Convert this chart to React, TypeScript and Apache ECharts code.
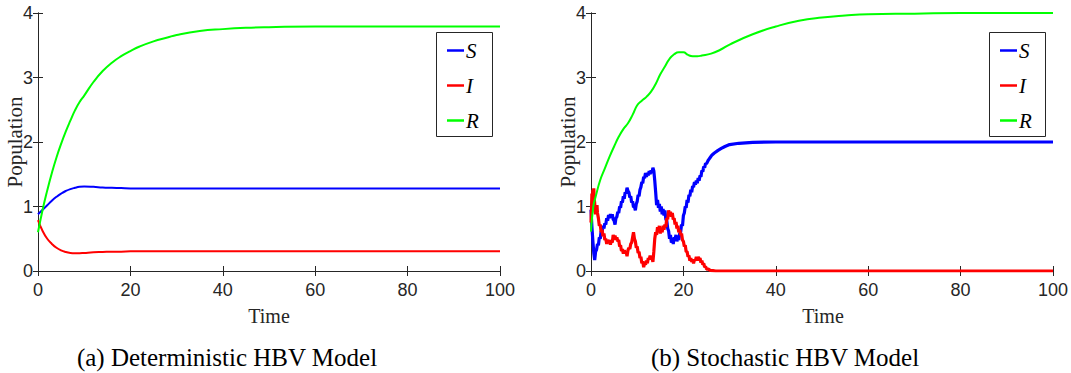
import React, { useEffect, useRef } from "react";
import * as echarts from "echarts";

// ---------- Data ----------
const T_DET = [0, 1, 2, 3, 4, 5, 6, 7, 8, 9, 10, 12, 14, 16, 18, 20, 22, 25, 28, 30, 35, 40, 45, 50, 60, 70, 80, 90, 100];
const S_DET = [0.88, 0.95, 1.02, 1.09, 1.15, 1.2, 1.24, 1.27, 1.29, 1.305, 1.31, 1.305, 1.295, 1.29, 1.285, 1.28, 1.28, 1.28, 1.28, 1.28, 1.28, 1.28, 1.28, 1.28, 1.28, 1.28, 1.28, 1.28, 1.28];
const I_DET = [0.79, 0.62, 0.5, 0.42, 0.36, 0.32, 0.295, 0.28, 0.275, 0.275, 0.28, 0.29, 0.295, 0.3, 0.3, 0.305, 0.305, 0.305, 0.305, 0.305, 0.305, 0.305, 0.305, 0.305, 0.305, 0.305, 0.305, 0.305, 0.305];
const R_DET = [0.6, 0.95, 1.25, 1.52, 1.76, 1.97, 2.16, 2.33, 2.49, 2.62, 2.72, 2.93, 3.1, 3.23, 3.33, 3.41, 3.48, 3.56, 3.62, 3.66, 3.72, 3.75, 3.77, 3.78, 3.79, 3.79, 3.79, 3.79, 3.79];

const T_S_STO = [0, 0.2, 0.4, 0.6, 0.8, 1.0, 1.2, 1.4, 1.6, 1.8, 2.0, 2.2, 2.4, 2.6, 2.8, 3.0, 3.2, 3.4, 3.6, 3.8, 4.0, 4.2, 4.4, 4.6, 4.8, 5.0, 5.2, 5.4, 5.6, 5.8, 6.0, 6.2, 6.4, 6.6, 6.8, 7.0, 7.2, 7.4, 7.6, 7.8, 8.0, 8.2, 8.4, 8.6, 8.8, 9.0, 9.2, 9.4, 9.6, 9.8, 10.0, 10.2, 10.4, 10.6, 10.8, 11.0, 11.2, 11.4, 11.6, 11.8, 12.0, 12.2, 12.4, 12.6, 12.8, 13.0, 13.2, 13.4, 13.6, 13.8, 14.0, 14.2, 14.4, 14.6, 14.8, 15.0, 15.2, 15.4, 15.6, 15.8, 16.0, 16.2, 16.4, 16.6, 16.8, 17.0, 17.2, 17.4, 17.6, 17.8, 18.0, 18.2, 18.4, 18.6, 18.8, 19.0, 19.2, 19.4, 19.6, 19.8, 20.0, 20.2, 20.4, 20.6, 20.8, 21.0, 21.2, 21.4, 21.6, 21.8, 22.0, 22.2, 22.4, 22.6, 22.8, 23.0, 23.2, 23.4, 23.6, 23.8, 24.0, 24.2, 24.4, 24.6, 24.8, 25.0, 25.4, 25.8, 26.2, 26.7, 27.5, 28.2, 29, 30, 32, 35, 40, 100];
const S_STO = [0.95, 0.68, 0.47, 0.28, 0.17, 0.3, 0.33, 0.42, 0.4, 0.52, 0.5, 0.62, 0.6, 0.7, 0.66, 0.74, 0.72, 0.82, 0.78, 0.87, 0.82, 0.88, 0.83, 0.88, 0.8, 0.78, 0.72, 0.82, 0.84, 0.92, 0.9, 1.0, 0.98, 1.08, 1.06, 1.16, 1.12, 1.22, 1.2, 1.29, 1.24, 1.22, 1.14, 1.16, 1.06, 1.08, 0.99, 1.0, 0.94, 1.04, 1.08, 1.18, 1.16, 1.26, 1.3, 1.38, 1.36, 1.46, 1.44, 1.52, 1.46, 1.52, 1.48, 1.55, 1.5, 1.56, 1.52, 1.6, 1.55, 1.4, 1.22, 1.02, 1.1, 0.98, 1.04, 0.92, 1.0, 0.88, 0.96, 0.86, 0.94, 0.8, 0.78, 0.66, 0.62, 0.5, 0.56, 0.44, 0.48, 0.42, 0.52, 0.5, 0.56, 0.46, 0.52, 0.48, 0.58, 0.6, 0.72, 0.7, 0.86, 0.9, 1.0, 0.98, 1.1, 1.06, 1.18, 1.16, 1.26, 1.22, 1.32, 1.3, 1.38, 1.34, 1.4, 1.36, 1.44, 1.4, 1.48, 1.46, 1.56, 1.54, 1.62, 1.6, 1.67, 1.66, 1.72, 1.76, 1.8, 1.83, 1.87, 1.9, 1.93, 1.96, 1.98, 1.995, 2.0, 2.0];

const T_I_STO = [0, 0.1, 0.2, 0.3, 0.4, 0.5, 0.6, 0.7, 0.8, 0.9, 1.0, 1.1, 1.2, 1.3, 1.4, 1.6, 1.8, 2.0, 2.2, 2.4, 2.6, 2.8, 3.0, 3.2, 3.4, 3.6, 3.8, 4.0, 4.2, 4.4, 4.6, 4.8, 5.0, 5.2, 5.4, 5.6, 5.8, 6.0, 6.2, 6.4, 6.6, 6.8, 7.0, 7.2, 7.4, 7.6, 7.8, 8.0, 8.2, 8.4, 8.6, 8.8, 9.0, 9.2, 9.4, 9.6, 9.8, 10.0, 10.2, 10.4, 10.6, 10.8, 11.0, 11.2, 11.4, 11.6, 11.8, 12.0, 12.2, 12.4, 12.6, 12.8, 13.0, 13.2, 13.4, 13.6, 13.8, 14.0, 14.2, 14.4, 14.6, 14.8, 15.0, 15.2, 15.4, 15.6, 15.8, 16.0, 16.2, 16.4, 16.6, 16.8, 17.0, 17.2, 17.4, 17.6, 17.8, 18.0, 18.2, 18.4, 18.6, 18.8, 19.0, 19.2, 19.4, 19.6, 19.8, 20.0, 20.2, 20.4, 20.6, 20.8, 21.0, 21.2, 21.4, 21.6, 21.8, 22.0, 22.2, 22.4, 22.6, 22.8, 23.0, 23.2, 23.4, 23.6, 23.8, 24.0, 24.2, 24.4, 24.6, 24.8, 25.0, 25.4, 25.8, 26.4, 27, 30, 100];
const I_STO = [0.75, 0.95, 1.2, 1.1, 1.26, 1.18, 1.28, 1.12, 1.05, 0.92, 0.88, 0.98, 0.95, 1.02, 0.9, 0.82, 0.7, 0.72, 0.6, 0.64, 0.54, 0.58, 0.48, 0.5, 0.42, 0.48, 0.44, 0.48, 0.41, 0.47, 0.44, 0.56, 0.5, 0.55, 0.48, 0.52, 0.46, 0.48, 0.38, 0.4, 0.31, 0.34, 0.27, 0.32, 0.28, 0.3, 0.23, 0.32, 0.36, 0.34, 0.42, 0.44, 0.52, 0.6, 0.5, 0.46, 0.36, 0.38, 0.28, 0.3, 0.2, 0.22, 0.12, 0.15, 0.06, 0.12, 0.1, 0.16, 0.12, 0.2, 0.18, 0.24, 0.18, 0.2, 0.14, 0.3, 0.5, 0.6, 0.56, 0.68, 0.62, 0.7, 0.58, 0.66, 0.6, 0.7, 0.64, 0.72, 0.68, 0.82, 0.8, 0.94, 0.86, 0.92, 0.84, 0.9, 0.8, 0.82, 0.72, 0.76, 0.66, 0.7, 0.6, 0.64, 0.56, 0.58, 0.48, 0.46, 0.38, 0.4, 0.3, 0.3, 0.22, 0.24, 0.16, 0.2, 0.14, 0.18, 0.12, 0.18, 0.16, 0.22, 0.16, 0.22, 0.18, 0.2, 0.13, 0.16, 0.1, 0.12, 0.06, 0.07, 0.03, 0.03, 0.01, 0.005, 0, 0, 0];

const T_R_STO = [0, 0.5, 1, 2, 3, 4, 5, 6, 7, 8, 9, 10, 11, 12, 13, 14, 15, 16, 17, 18, 19, 20, 21, 22, 23, 24, 26, 28, 30, 35, 40, 45, 50, 55, 60, 70, 80, 100];
const R_STO = [0.61, 1.0, 1.15, 1.41, 1.59, 1.77, 1.93, 2.08, 2.2, 2.29, 2.42, 2.57, 2.64, 2.7, 2.78, 2.9, 3.05, 3.17, 3.29, 3.36, 3.39, 3.39, 3.35, 3.33, 3.33, 3.34, 3.37, 3.43, 3.51, 3.67, 3.79, 3.88, 3.93, 3.96, 3.98, 3.99, 4.0, 4.0];

const X_TICK_LABELS = ["0", "20", "40", "60", "80", "100"];
const Y_TICK_LABELS = ["0", "1", "2", "3", "4"];
const SERIES_NAMES = ["S", "I", "R"];
const CAPTIONS = ["(a) Deterministic HBV Model", "(b) Stochastic HBV Model"];

// ---------- Styling ----------
const COLORS = { S: "#0000ff", I: "#ff0000", R: "#00ff00" };
const AXIS_COLOR = "#262626";
const TICK_FONT = "'Liberation Sans Narrow', 'Liberation Sans', Arial, sans-serif";
const SERIF = "'Liberation Serif', 'Times New Roman', serif";

const pairs = (t: number[], v: number[]) => t.map((x, i) => [x, v[i]]);

const GRIDS = [
  { left: 38, top: 13, width: 462, height: 258 },
  { left: 591, top: 13, width: 464, height: 258 },
];

function buildOption() {
  const xAxes: any[] = [];
  const yAxes: any[] = [];
  GRIDS.forEach((_, g) => {
    const common = {
      gridIndex: g,
      type: "value",
      min: 0,
      max: 100,
      interval: 20,
      axisLine: { show: true, lineStyle: { color: AXIS_COLOR, width: 1 } },
      axisTick: { show: true, inside: true, length: 5, lineStyle: { color: AXIS_COLOR } },
      splitLine: { show: false },
    };
    xAxes.push({
      ...common,
      position: "bottom",
      axisLabel: {
        show: true,
        margin: 10,
        color: AXIS_COLOR,
        fontSize: 18,
        fontFamily: TICK_FONT,
        formatter: (v: number) => X_TICK_LABELS[Math.round(v / 20)] ?? String(v),
      },
    });
    xAxes.push({ ...common, position: "top", axisLabel: { show: false } });
    const ycommon = {
      gridIndex: g,
      type: "value",
      min: 0,
      max: 4,
      interval: 1,
      axisLine: { show: true, lineStyle: { color: AXIS_COLOR, width: 1 } },
      axisTick: { show: true, inside: true, length: 5, lineStyle: { color: AXIS_COLOR } },
      splitLine: { show: false },
    };
    yAxes.push({
      ...ycommon,
      position: "left",
      axisLabel: {
        show: true,
        margin: 5,
        color: AXIS_COLOR,
        fontSize: 18,
        fontFamily: TICK_FONT,
        formatter: (v: number) => Y_TICK_LABELS[Math.round(v)] ?? String(v),
      },
    });
    yAxes.push({ ...ycommon, position: "right", axisLabel: { show: false } });
  });

  const line = (name: string, data: number[][], g: number, smooth: boolean, width: number) => ({
    type: "line",
    name,
    xAxisIndex: g * 2,
    yAxisIndex: g * 2,
    data,
    smooth,
    showSymbol: false,
    symbol: "none",
    lineStyle: { color: (COLORS as any)[name], width },
    itemStyle: { color: (COLORS as any)[name] },
    z: 2,
  });

  const series = [
    line("S", pairs(T_DET, S_DET), 0, true, 2),
    line("I", pairs(T_DET, I_DET), 0, true, 2),
    line("R", pairs(T_DET, R_DET), 0, true, 2),
    line("S", pairs(T_S_STO, S_STO), 1, false, 3.2),
    line("I", pairs(T_I_STO, I_STO), 1, false, 3.2),
    line("R", pairs(T_R_STO, R_STO), 1, true, 2),
  ];

  const legendCommon = {
    orient: "vertical",
    top: 40,
    itemWidth: 17,
    itemHeight: 2.5,
    itemGap: 14,
    icon: "rect",
    padding: 0,
    selectedMode: false,
    textStyle: {
      fontFamily: SERIF,
      fontStyle: "italic",
      fontSize: 21,
      lineHeight: 20,
      color: "#000",
      padding: [0, 0, 0, -3],
    },
    data: SERIES_NAMES,
    z: 5,
  };

  const legendBoxes = [
    { x: 436, y: 32, w: 56, h: 104 },
    { x: 989, y: 32, w: 56, h: 104 },
  ];

  const graphic: any[] = [];
  legendBoxes.forEach((b) => {
    graphic.push({
      type: "rect",
      shape: { x: b.x + 0.5, y: b.y + 0.5, width: b.w, height: b.h },
      style: { fill: "#fff", stroke: AXIS_COLOR, lineWidth: 1 },
      z: 3,
    });
  });
  const timeX = [269, 823];
  const popX = [15, 568];
  const capX = [227, 785];
  [0, 1].forEach((g) => {
    graphic.push({
      type: "text",
      x: timeX[g],
      y: 316,
      style: { text: "Time", fontFamily: SERIF, fontSize: 20, fill: AXIS_COLOR, textAlign: "center", textVerticalAlign: "middle" },
      z: 5,
    });
    graphic.push({
      type: "text",
      x: popX[g],
      y: 142,
      rotation: Math.PI / 2,
      style: { text: "Population", fontFamily: SERIF, fontSize: 21, fill: AXIS_COLOR, textAlign: "center", textVerticalAlign: "middle" },
      z: 5,
    });
    graphic.push({
      type: "text",
      x: capX[g],
      y: 357,
      style: { text: CAPTIONS[g], fontFamily: SERIF, fontSize: 25, fill: "#000", textAlign: "center", textVerticalAlign: "middle" },
      z: 5,
    });
  });

  return {
    animation: false,
    backgroundColor: "#fff",
    grid: GRIDS.map((g) => ({ ...g, containLabel: false })),
    xAxis: xAxes,
    yAxis: yAxes,
    legend: [
      { ...legendCommon, left: 447 },
      { ...legendCommon, left: 1000 },
    ],
    series,
    graphic,
  };
}

export default function App() {
  const ref = useRef<HTMLDivElement>(null);
  useEffect(() => {
    if (!ref.current) return;
    const chart = echarts.init(ref.current, null, { renderer: "svg" });
    chart.setOption(buildOption() as any);
    return () => chart.dispose();
  }, []);
  return (
    <div
      ref={ref}
      style={{ position: "absolute", left: 0, top: 0, width: 1071, height: 373, background: "#fff" }}
    />
  );
}
